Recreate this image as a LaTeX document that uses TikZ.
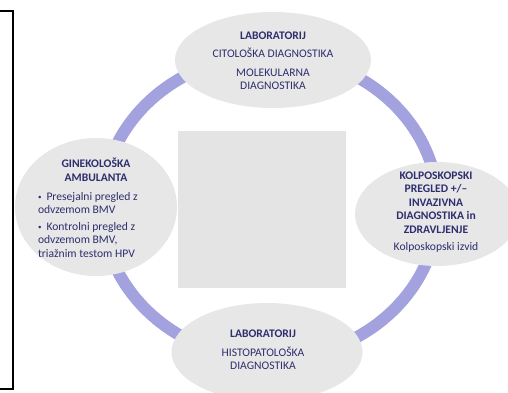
\documentclass[tikz,border=0pt]{standalone}
\usepackage{fontspec}
\setmainfont{Carlito}
\usetikzlibrary{shapes.geometric}
\definecolor{ellfill}{HTML}{E7E7E7}
\definecolor{sqfill}{HTML}{E4E4E4}
\definecolor{ringc}{HTML}{A3A2DE}
\definecolor{txtc}{HTML}{2E2E6E}
\tikzset{
  ell/.style={ellipse, fill=ellfill, draw=none, inner sep=0pt},
  txt/.style={text=txtc, align=center, inner sep=0pt,
    font=\fontsize{11.6pt}{13.6pt}\selectfont},
  ring/.style={draw=ringc, line width=12pt}
}
\begin{document}
\begin{tikzpicture}[x=1pt,y=-1pt]
\useasboundingbox (0,0) rectangle (508,392);
\clip (0,0) rectangle (508,392);
% frame
\draw[line width=1.4pt, black] (-5,11) rectangle (13,389);
% centre square
\node[fill=sqfill, minimum width=168pt, minimum height=157pt, inner sep=0pt] (sq) at (262,209.5) {};
% ring
\coordinate (rc) at (270,207);
\draw[ring] (rc) ellipse [x radius=168pt, y radius=152pt];
% ellipses
\node[ell, minimum width=196pt, minimum height=96pt] (top) at (273,60) {};
\node[ell, minimum width=162pt, minimum height=138pt] (gin) at (96,207) {};
\node[ell, minimum width=164pt, minimum height=104pt] (kol) at (437,214) {};
\node[ell, minimum width=191pt, minimum height=98pt] (bot) at (267,352) {};
% texts
\node[txt] (toptxt) at (273,61) {\textbf{LABORATORIJ}\\[4.5pt]CITOLOŠKA DIAGNOSTIKA\\[4.5pt]MOLEKULARNA\\DIAGNOSTIKA};
\node[txt] (gintxt) at (96,208) {\begin{minipage}{116pt}\centering
\textbf{GINEKOLOŠKA}\\\textbf{AMBULANTA}\par\vspace{5pt}
\raggedright
\hangindent=8.5pt\hangafter=1\noindent\makebox[8.5pt][l]{\raisebox{0.5pt}{\scriptsize•}}Presejalni pregled z\\odvzemom BMV\par\vspace{3pt}
\hangindent=8.5pt\hangafter=1\noindent\makebox[8.5pt][l]{\raisebox{0.5pt}{\scriptsize•}}Kontrolni pregled z\\odvzemom BMV,\\triažnim testom HPV\par
\end{minipage}};
\node[txt] (koltxt) at (436,212) {\textbf{KOLPOSKOPSKI}\\\textbf{PREGLED +/–}\\\textbf{INVAZIVNA}\\\textbf{DIAGNOSTIKA in}\\\textbf{ZDRAVLJENJE}\\[3.5pt]Kolposkopski izvid};
\node[txt] (bottxt) at (263,350) {\textbf{LABORATORIJ}\\[4.5pt]HISTOPATOLOŠKA\\DIAGNOSTIKA};
\end{tikzpicture}
\end{document}
